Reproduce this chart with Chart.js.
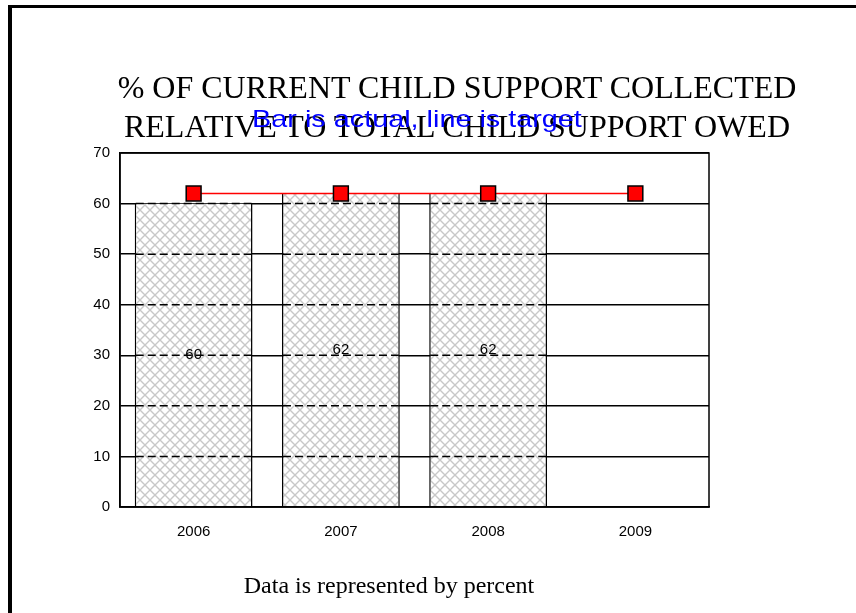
<!DOCTYPE html>
<html>
<head>
<meta charset="utf-8">
<script src="https://cdn.jsdelivr.net/npm/chart.js@4.4.0/dist/chart.umd.min.js"></script>
<style>
  html, body { margin:0; padding:0; background:#fff; }
  body { width:856px; height:613px; overflow:hidden; position:relative; }
  #frame { position:absolute; left:8px; top:5px; width:860px; height:700px;
           border-top:3px solid #000; border-left:4px solid #000; box-sizing:border-box; }
  canvas { position:absolute; left:0; top:0; }
  .t { position:absolute; text-align:center; white-space:nowrap; }
  #title { left:7px; width:900px; top:68px; font-family:"Liberation Serif","Times New Roman",serif;
           font-size:32px; line-height:39px; color:#000; }
  #subtitle { left:-33px; width:900px; top:104px; font-family:"Liberation Sans",Arial,sans-serif;
              font-size:24px; line-height:30px; color:#0000ff; transform:scaleX(1.2); transform-origin:450px 50%; }
  #footer { left:-61px; width:900px; top:570px; font-family:"Liberation Serif","Times New Roman",serif;
            font-size:24px; line-height:30px; color:#000; }
</style>
</head>
<body>
<div id="frame"></div>
<canvas id="c" width="856" height="613"></canvas>
<div class="t" id="title">% OF CURRENT CHILD SUPPORT COLLECTED<br>RELATIVE TO TOTAL CHILD SUPPORT OWED</div>
<div class="t" id="subtitle">Bar is actual, line is target</div>
<div class="t" id="footer">Data is represented by percent</div>
<script>
const years = ['2006', '2007', '2008', '2009'];
const actual = [60, 62, 62, null];
const target = [62, 62, 62, 62];
const yMin = 0, yMax = 70, yStep = 10;

function hatch() {
  const n = 10;
  const p = document.createElement('canvas');
  p.width = n; p.height = n;
  const g = p.getContext('2d');
  g.fillStyle = '#fff'; g.fillRect(0, 0, n, n);
  g.strokeStyle = '#c8c8c8'; g.lineWidth = 1.4;
  g.beginPath();
  g.moveTo(0, 0); g.lineTo(n, n);
  g.moveTo(n, 0); g.lineTo(0, n);
  g.stroke();
  return document.getElementById('c').getContext('2d').createPattern(p, 'repeat');
}

const overlay = {
  id: 'overlay',
  afterDatasetDraw(chart, args) {
    const ds = chart.data.datasets[args.index];
    if (ds.type !== 'bar') return;
    const ctx = chart.ctx, ys = chart.scales.y;
    ctx.save();
    args.meta.data.forEach((bar, i) => {
      const v = ds.data[i];
      if (v == null) return;
      const half = bar.width / 2;
      ctx.strokeStyle = '#000';
      ctx.lineWidth = 1.5;
      ctx.setLineDash([8, 4]);
      ys.ticks.forEach(t => {
        if (t.value <= 0 || t.value > v) return;
        const y = ys.getPixelForValue(t.value);
        ctx.beginPath();
        ctx.moveTo(bar.x - half + 1, y);
        ctx.lineTo(bar.x + half - 1, y);
        ctx.stroke();
      });
      ctx.setLineDash([]);
      ctx.fillStyle = '#000';
      ctx.font = '15px "Liberation Sans", Arial, sans-serif';
      ctx.textAlign = 'center';
      ctx.textBaseline = 'middle';
      ctx.fillText(String(v), bar.x, (bar.y + bar.base) / 2);
    });
    ctx.restore();
  },
  afterDraw(chart) {
    const a = chart.chartArea, ctx = chart.ctx;
    ctx.save();
    ctx.strokeStyle = '#000';
    ctx.lineWidth = 1.5;
    ctx.strokeRect(a.left, a.top, a.right - a.left, a.bottom - a.top);
    ctx.restore();
  }
};

new Chart(document.getElementById('c'), {
  data: {
    labels: years,
    datasets: [
      {
        type: 'line', data: target, order: 0,
        borderColor: '#ff0000', borderWidth: 1.5,
        pointStyle: 'rect', pointRadius: 10.5, pointHoverRadius: 10.5,
        pointBackgroundColor: '#ff0000', pointBorderColor: '#000', pointBorderWidth: 1.5,
        tension: 0
      },
      {
        type: 'bar', data: actual, order: 1,
        backgroundColor: hatch(),
        borderColor: '#000',
        borderWidth: { left: 1.5, right: 1.5, top: 0, bottom: 0 },
        categoryPercentage: 1.0, barPercentage: 0.8
      }
    ]
  },
  options: {
    responsive: false, animation: false,
    layout: { padding: { left: 0, right: 147, top: 153, bottom: 0 } },
    plugins: { legend: { display: false }, tooltip: { enabled: false }, title: { display: false } },
    scales: {
      x: {
        offset: true,
        grid: { display: false, drawTicks: false },
        border: { display: true, color: '#000', width: 1.5 },
        ticks: { color: '#000', padding: 16, font: { family: '"Liberation Sans", Arial, sans-serif', size: 15 } },
        afterFit(s) { s.height = 106; }
      },
      y: {
        min: yMin, max: yMax,
        grid: { color: '#000', lineWidth: 1.5, drawTicks: false },
        border: { display: true, color: '#000', width: 1.5 },
        ticks: { stepSize: yStep, color: '#000', padding: 10, font: { family: '"Liberation Sans", Arial, sans-serif', size: 15 } },
        afterFit(s) { s.width = 120; }
      }
    }
  },
  plugins: [overlay]
});
</script>
</body>
</html>
